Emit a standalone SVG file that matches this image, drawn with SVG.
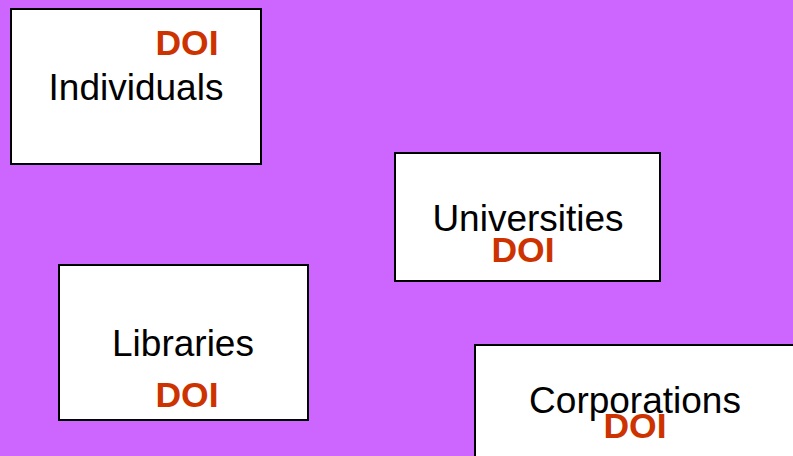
<svg xmlns="http://www.w3.org/2000/svg" width="793" height="456" viewBox="0 0 793 456">
<style>
.box{fill:#ffffff;stroke:#000000;stroke-width:2}
.lbl{font-family:"Liberation Sans",Arial,sans-serif;font-size:37px;fill:#000000;text-anchor:middle}
.doi{font-family:"Liberation Sans",Arial,sans-serif;font-size:35.5px;font-weight:bold;fill:#CC3300;text-anchor:middle}
</style>
<rect x="0" y="0" width="793" height="456" fill="#CC66FF"/>
<g id="connectors"></g>
<g id="individuals">
<rect class="box" x="11" y="9" width="250" height="155"/>
<text class="doi" x="187" y="55">DOI</text>
<text class="lbl" x="136" y="100">Individuals</text>
</g>
<g id="universities">
<rect class="box" x="395" y="153" width="265" height="128"/>
<text class="lbl" x="528" y="231">Universities</text>
<text class="doi" x="523" y="262">DOI</text>
</g>
<g id="libraries">
<rect class="box" x="59" y="265" width="249" height="155"/>
<text class="lbl" x="183" y="356">Libraries</text>
<text class="doi" x="187" y="407">DOI</text>
</g>
<g id="corporations">
<rect class="box" x="475" y="345" width="330" height="130"/>
<text class="lbl" x="635" y="413">Corporations</text>
<text class="doi" x="635" y="438">DOI</text>
</g>
</svg>
